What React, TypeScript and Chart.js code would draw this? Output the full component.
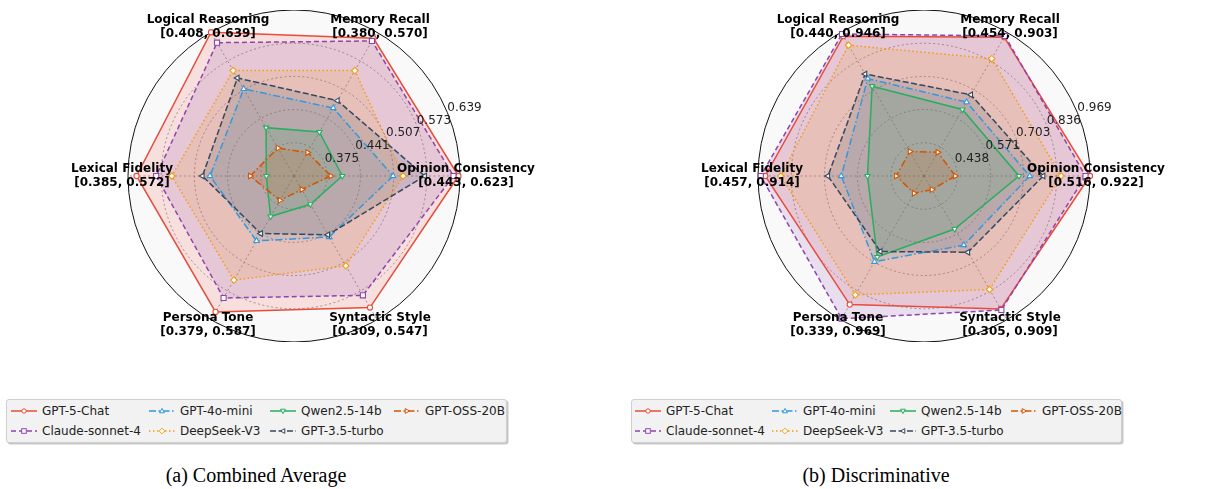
import { useEffect, useRef } from 'react';
import { Chart, registerables } from 'chart.js';

Chart.register(...registerables);

// Models, in legend / drawing order
const MODELS = [
  'GPT-5-Chat',
  'Claude-sonnet-4',
  'GPT-4o-mini',
  'DeepSeek-V3',
  'Qwen2.5-14b',
  'GPT-3.5-turbo',
  'GPT-OSS-20B',
];

// Axes, clockwise starting from the right-hand side
const DIMENSIONS = [
  'Opinion Consistency',
  'Syntactic Style',
  'Persona Tone',
  'Lexical Fidelity',
  'Logical Reasoning',
  'Memory Recall',
];

// (a) Combined Average
const COMBINED_RANGES = [
  '[0.443, 0.623]',
  '[0.309, 0.547]',
  '[0.379, 0.587]',
  '[0.385, 0.572]',
  '[0.408, 0.639]',
  '[0.380, 0.570]',
];
const COMBINED_RINGS = [0.309, 0.375, 0.441, 0.507, 0.573, 0.639];
const COMBINED_GPT5 = [0.636, 0.611, 0.621, 0.622, 0.639, 0.625];
const COMBINED_CLAUDE = [0.626, 0.583, 0.589, 0.583, 0.615, 0.619];
const COMBINED_GPT4O_MINI = [0.506, 0.449, 0.458, 0.476, 0.509, 0.465];
const COMBINED_DEEPSEEK = [0.526, 0.515, 0.548, 0.552, 0.551, 0.551];
const COMBINED_QWEN = [0.405, 0.374, 0.402, 0.364, 0.42, 0.41];
const COMBINED_GPT35 = [0.569, 0.444, 0.441, 0.491, 0.534, 0.482];
const COMBINED_OSS = [0.382, 0.34, 0.365, 0.396, 0.373, 0.363];

// (b) Discriminative
const DISC_RANGES = [
  '[0.516, 0.922]',
  '[0.305, 0.909]',
  '[0.339, 0.969]',
  '[0.457, 0.914]',
  '[0.440, 0.946]',
  '[0.454, 0.903]',
];
const DISC_RINGS = [0.305, 0.438, 0.571, 0.703, 0.836, 0.969];
const DISC_GPT5 = [0.969, 0.919, 0.899, 0.94, 0.951, 0.946];
const DISC_CLAUDE = [0.951, 0.924, 0.964, 0.958, 0.961, 0.952];
const DISC_GPT4O_MINI = [0.728, 0.624, 0.701, 0.636, 0.755, 0.646];
const DISC_DEEPSEEK = [0.853, 0.829, 0.854, 0.878, 0.909, 0.847];
const DISC_QWEN = [0.685, 0.55, 0.679, 0.531, 0.72, 0.612];
const DISC_GPT35 = [0.782, 0.657, 0.654, 0.689, 0.776, 0.68];
const DISC_OSS = [0.43, 0.368, 0.385, 0.416, 0.418, 0.415];

type MarkerKind = 'circle' | 'rect' | 'triUp' | 'diamond' | 'triDown' | 'triLeft' | 'triRight';

const STYLES: { color: string; dash: number[]; marker: MarkerKind }[] = [
  { color: '#e74c3c', dash: [], marker: 'circle' },
  { color: '#8e44ad', dash: [5, 3], marker: 'rect' },
  { color: '#3498db', dash: [7, 2.5, 1.5, 2.5], marker: 'triUp' },
  { color: '#f39c12', dash: [1.5, 2.5], marker: 'diamond' },
  { color: '#27ae60', dash: [], marker: 'triDown' },
  { color: '#34495e', dash: [6, 2.5], marker: 'triLeft' },
  { color: '#d35400', dash: [7, 2.5, 1.5, 2.5], marker: 'triRight' },
];

const POINT_STYLE: Record<MarkerKind, { style: string; rotation: number; radius: number }> = {
  circle: { style: 'circle', rotation: 0, radius: 2.6 },
  rect: { style: 'rect', rotation: 0, radius: 3.6 },
  triUp: { style: 'triangle', rotation: 0, radius: 3.2 },
  diamond: { style: 'rectRot', rotation: 0, radius: 3.2 },
  triDown: { style: 'triangle', rotation: 180, radius: 3.0 },
  triLeft: { style: 'triangle', rotation: -90, radius: 3.2 },
  triRight: { style: 'triangle', rotation: 90, radius: 3.2 },
};

function hexToRgba(hex: string, a: number) {
  const n = parseInt(hex.slice(1), 16);
  return `rgba(${(n >> 16) & 255}, ${(n >> 8) & 255}, ${n & 255}, ${a})`;
}

// Axis names with their ranges, and ring values along the 22.5° ray
function axisTextPlugin(ranges: string[]) {
  return {
    id: 'axisText',
    afterDatasetsDraw(chart: any) {
      const scale = chart.scales.r;
      const ctx = chart.ctx as CanvasRenderingContext2D;
      ctx.save();
      ctx.font = '12px "DejaVu Sans"';
      ctx.fillStyle = '#222';
      ctx.textAlign = 'left';
      ctx.textBaseline = 'alphabetic';
      const a = -Math.PI / 8;
      scale.ticks.forEach((t: any, i: number) => {
        if (i === 0) return;
        const d = scale.getDistanceFromCenterForValue(t.value);
        const x = scale.xCenter + Math.cos(a) * d;
        const y = scale.yCenter + Math.sin(a) * d;
        ctx.fillText(Number(t.value).toFixed(3), x, y - 1.5);
      });
      ctx.font = 'bold 12px "DejaVu Sans"';
      ctx.fillStyle = '#000';
      ctx.textAlign = 'center';
      ctx.textBaseline = 'middle';
      DIMENSIONS.forEach((name, i) => {
        const p = scale.getPointPosition(i, scale.drawingArea + 6);
        ctx.fillText(name, p.x, p.y - 7);
        ctx.fillText(ranges[i], p.x, p.y + 7);
      });
      ctx.restore();
    },
  };
}

function RadarPanel({
  series,
  ranges,
  rings,
  left,
}: {
  series: number[][];
  ranges: string[];
  rings: number[];
  left: number;
}) {
  const ref = useRef<HTMLCanvasElement | null>(null);

  useEffect(() => {
    if (!ref.current) return;
    const last = rings.length - 1;
    const chart = new Chart(ref.current, {
      type: 'radar',
      data: {
        labels: DIMENSIONS,
        datasets: MODELS.map((label, i) => {
          const s = STYLES[i];
          const ps = POINT_STYLE[s.marker];
          return {
            label,
            data: series[i],
            borderColor: s.color,
            backgroundColor: hexToRgba(s.color, 0.15),
            borderWidth: 1.5,
            borderDash: s.dash,
            fill: 'start',
            pointStyle: ps.style,
            pointRotation: ps.rotation,
            pointRadius: ps.radius,
            pointBorderWidth: 1.1,
            pointBackgroundColor: '#ffffff',
            pointBorderColor: s.color,
            order: MODELS.length - i,
          } as any;
        }),
      },
      options: {
        animation: false,
        responsive: false,
        maintainAspectRatio: false,
        events: [],
        layout: { padding: 0 },
        plugins: {
          legend: { display: false },
          tooltip: { enabled: false },
          filler: { drawTime: 'beforeDatasetsDraw' },
        } as any,
        scales: {
          r: {
            min: rings[0],
            max: rings[last],
            startAngle: 90,
            afterBuildTicks: (s: any) => {
              s.ticks = rings.map((v) => ({ value: v }));
            },
            ticks: { display: false },
            pointLabels: { display: false },
            backgroundColor: '#f9f9f9',
            grid: {
              circular: true,
              color: (c: any) => (c.index === last ? '#111' : 'rgba(0,0,0,0.42)'),
              lineWidth: (c: any) => (c.index === last ? 1 : 0.9),
            },
            border: {
              dash: (c: any) => (c.index === last ? [] : [2, 2.5]),
            },
            angleLines: {
              color: 'rgba(0,0,0,0.42)',
              lineWidth: 0.9,
              borderDash: [2, 2.5],
            },
          } as any,
        },
      },
      plugins: [axisTextPlugin(ranges)],
    });
    return () => chart.destroy();
  }, [series, ranges, rings]);

  return (
    <canvas
      ref={ref}
      width={500}
      height={332}
      style={{ position: 'absolute', left, top: 10, width: 500, height: 332 }}
    />
  );
}

function MarkerIcon({ kind, color }: { kind: MarkerKind; color: string }) {
  const cx = 13;
  const cy = 5;
  const common = { fill: '#fff', stroke: color, strokeWidth: 1 };
  switch (kind) {
    case 'circle':
      return <circle cx={cx} cy={cy} r={2.2} {...common} />;
    case 'rect':
      return <rect x={cx - 2.3} y={cy - 2.3} width={4.6} height={4.6} {...common} />;
    case 'diamond':
      return <polygon points={`${cx},${cy - 2.8} ${cx + 2.8},${cy} ${cx},${cy + 2.8} ${cx - 2.8},${cy}`} {...common} />;
    case 'triUp':
      return <polygon points={`${cx},${cy - 2.6} ${cx + 2.4},${cy + 1.8} ${cx - 2.4},${cy + 1.8}`} {...common} />;
    case 'triDown':
      return <polygon points={`${cx},${cy + 2.6} ${cx + 2.4},${cy - 1.8} ${cx - 2.4},${cy - 1.8}`} {...common} />;
    case 'triLeft':
      return <polygon points={`${cx - 2.6},${cy} ${cx + 1.8},${cy - 2.4} ${cx + 1.8},${cy + 2.4}`} {...common} />;
    case 'triRight':
      return <polygon points={`${cx + 2.6},${cy} ${cx - 1.8},${cy - 2.4} ${cx - 1.8},${cy + 2.4}`} {...common} />;
  }
  return null;
}

function Legend({ left, width, cols }: { left: number; width: number; cols: number[] }) {
  return (
    <div
      style={{
        position: 'absolute',
        left,
        top: 399,
        width,
        height: 44,
        boxSizing: 'border-box',
        background: '#f2f2f2',
        border: '1px solid #cfcfcf',
        borderRadius: 3,
        boxShadow: '1.5px 1.5px 0 rgba(0,0,0,0.22)',
      }}
    >
      {MODELS.map((name, i) => {
        const col = Math.floor(i / 2);
        const row = i % 2;
        const s = STYLES[i];
        return (
          <div
            key={name}
            style={{
              position: 'absolute',
              left: cols[col] - 31,
              top: row === 0 ? 3 : 23,
              height: 16,
              display: 'flex',
              alignItems: 'center',
              whiteSpace: 'nowrap',
            }}
          >
            <svg width={26} height={10} style={{ display: 'block', marginRight: 5 }}>
              <line
                x1={0}
                y1={5}
                x2={26}
                y2={5}
                stroke={s.color}
                strokeWidth={1.5}
                strokeDasharray={s.dash.length ? s.dash.join(' ') : undefined}
              />
              <MarkerIcon kind={s.marker} color={s.color} />
            </svg>
            <span style={{ font: '12px "DejaVu Sans"', color: '#222' }}>{name}</span>
          </div>
        );
      })}
    </div>
  );
}

const COMBINED_SERIES = [
  COMBINED_GPT5,
  COMBINED_CLAUDE,
  COMBINED_GPT4O_MINI,
  COMBINED_DEEPSEEK,
  COMBINED_QWEN,
  COMBINED_GPT35,
  COMBINED_OSS,
];
const DISC_SERIES = [
  DISC_GPT5,
  DISC_CLAUDE,
  DISC_GPT4O_MINI,
  DISC_DEEPSEEK,
  DISC_QWEN,
  DISC_GPT35,
  DISC_OSS,
];

export default function App() {
  const caption: React.CSSProperties = {
    position: 'absolute',
    top: 462,
    width: 400,
    textAlign: 'center',
    font: '20px "Liberation Serif"',
    color: '#000',
    lineHeight: '26px',
  };
  return (
    <div
      style={{
        position: 'absolute',
        left: 0,
        top: 0,
        width: 1212,
        height: 489,
        background: '#fff',
        overflow: 'hidden',
      }}
    >
      <RadarPanel series={COMBINED_SERIES} ranges={COMBINED_RANGES} rings={COMBINED_RINGS} left={44} />
      <RadarPanel series={DISC_SERIES} ranges={DISC_RANGES} rings={DISC_RINGS} left={674} />
      <Legend left={6} width={501} cols={[35, 173, 294, 418]} />
      <Legend left={631} width={491} cols={[34, 171, 289, 410]} />
      <div style={{ ...caption, left: 256 - 200 }}>(a) Combined Average</div>
      <div style={{ ...caption, left: 876 - 200 }}>(b) Discriminative</div>
    </div>
  );
}
